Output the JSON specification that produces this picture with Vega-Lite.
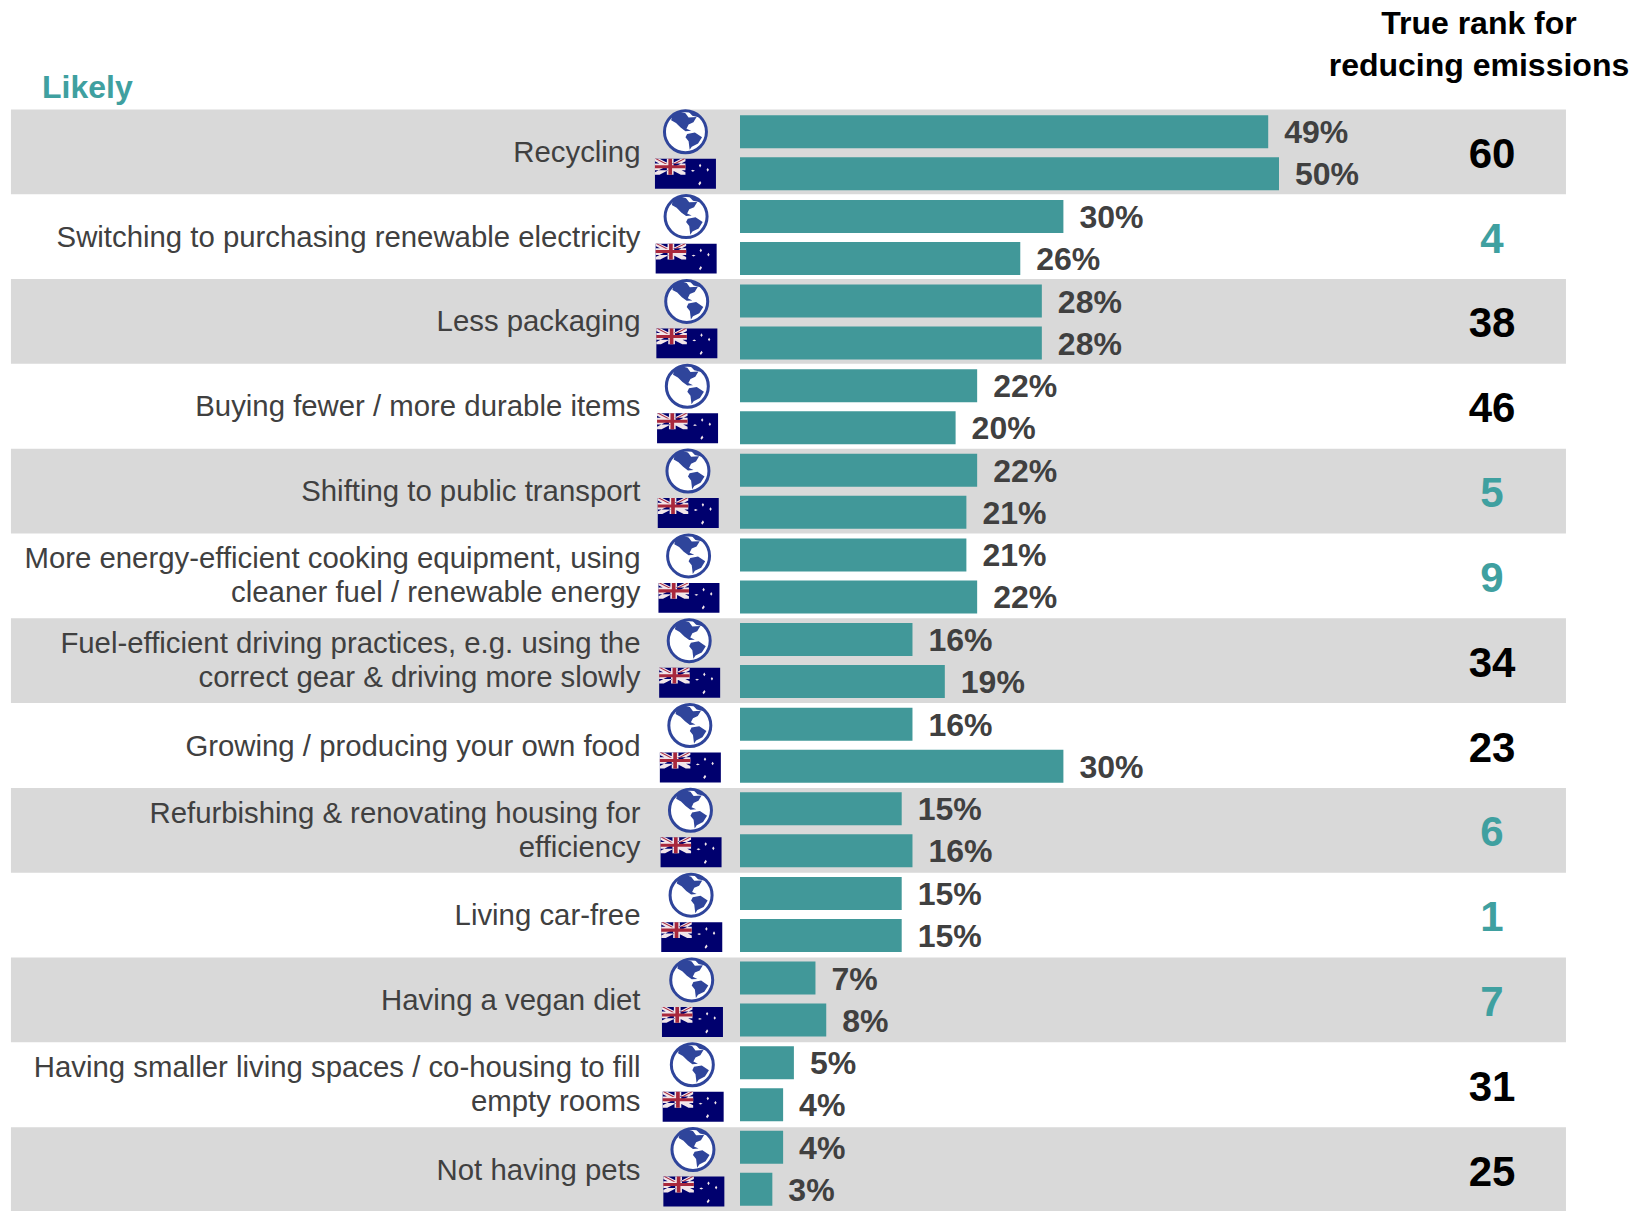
{
"$schema":"https://vega.github.io/schema/vega-lite/v6.json",
"width":1641,"height":1211,"padding":0,
"autosize":{"type":"fit","contains":"padding"},
"background":"white",
"view":{"stroke":null},
"datasets":{
"rows":[
{"category":"Recycling","series":"Global","value":0.49,"order":0},
{"category":"Recycling","series":"Australia","value":0.50,"order":0},
{"category":"Switching to purchasing renewable electricity","series":"Global","value":0.30,"order":1},
{"category":"Switching to purchasing renewable electricity","series":"Australia","value":0.26,"order":1},
{"category":"Less packaging","series":"Global","value":0.28,"order":2},
{"category":"Less packaging","series":"Australia","value":0.28,"order":2},
{"category":"Buying fewer / more durable items","series":"Global","value":0.22,"order":3},
{"category":"Buying fewer / more durable items","series":"Australia","value":0.20,"order":3},
{"category":"Shifting to public transport","series":"Global","value":0.22,"order":4},
{"category":"Shifting to public transport","series":"Australia","value":0.21,"order":4},
{"category":"More energy-efficient cooking equipment, using cleaner fuel / renewable energy","series":"Global","value":0.21,"order":5},
{"category":"More energy-efficient cooking equipment, using cleaner fuel / renewable energy","series":"Australia","value":0.22,"order":5},
{"category":"Fuel-efficient driving practices, e.g. using the correct gear & driving more slowly","series":"Global","value":0.16,"order":6},
{"category":"Fuel-efficient driving practices, e.g. using the correct gear & driving more slowly","series":"Australia","value":0.19,"order":6},
{"category":"Growing / producing your own food","series":"Global","value":0.16,"order":7},
{"category":"Growing / producing your own food","series":"Australia","value":0.30,"order":7},
{"category":"Refurbishing & renovating housing for efficiency","series":"Global","value":0.15,"order":8},
{"category":"Refurbishing & renovating housing for efficiency","series":"Australia","value":0.16,"order":8},
{"category":"Living car-free","series":"Global","value":0.15,"order":9},
{"category":"Living car-free","series":"Australia","value":0.15,"order":9},
{"category":"Having a vegan diet","series":"Global","value":0.07,"order":10},
{"category":"Having a vegan diet","series":"Australia","value":0.08,"order":10},
{"category":"Having smaller living spaces / co-housing to fill empty rooms","series":"Global","value":0.05,"order":11},
{"category":"Having smaller living spaces / co-housing to fill empty rooms","series":"Australia","value":0.04,"order":11},
{"category":"Not having pets","series":"Global","value":0.04,"order":12},
{"category":"Not having pets","series":"Australia","value":0.03,"order":12}
],
"ranks":[
{"category":"Recycling","label":"Recycling","rank":60,"order":0},
{"category":"Switching to purchasing renewable electricity","label":"Switching to purchasing renewable electricity","rank":4,"order":1},
{"category":"Less packaging","label":"Less packaging","rank":38,"order":2},
{"category":"Buying fewer / more durable items","label":"Buying fewer / more durable items","rank":46,"order":3},
{"category":"Shifting to public transport","label":"Shifting to public transport","rank":5,"order":4},
{"category":"More energy-efficient cooking equipment, using cleaner fuel / renewable energy","label":"More energy-efficient cooking equipment, using\ncleaner fuel / renewable energy","rank":9,"order":5},
{"category":"Fuel-efficient driving practices, e.g. using the correct gear & driving more slowly","label":"Fuel-efficient driving practices, e.g. using the\ncorrect gear & driving more slowly","rank":34,"order":6},
{"category":"Growing / producing your own food","label":"Growing / producing your own food","rank":23,"order":7},
{"category":"Refurbishing & renovating housing for efficiency","label":"Refurbishing & renovating housing for\nefficiency","rank":6,"order":8},
{"category":"Living car-free","label":"Living car-free","rank":1,"order":9},
{"category":"Having a vegan diet","label":"Having a vegan diet","rank":7,"order":10},
{"category":"Having smaller living spaces / co-housing to fill empty rooms","label":"Having smaller living spaces / co-housing to fill\nempty rooms","rank":31,"order":11},
{"category":"Not having pets","label":"Not having pets","rank":25,"order":12}
],
"headers":[{"category":"Header"}]
},
"resolve":{"scale":{"y":"independent"}},
"layer":[
{
"encoding":{
"y":{"field":"category","type":"nominal","axis":null,
"scale":{"type":"band","range":[24.6,1212],"paddingInner":0,"paddingOuter":0,
"domain":["Header","Recycling","Switching to purchasing renewable electricity","Less packaging","Buying fewer / more durable items","Shifting to public transport","More energy-efficient cooking equipment, using cleaner fuel / renewable energy","Fuel-efficient driving practices, e.g. using the correct gear & driving more slowly","Growing / producing your own food","Refurbishing & renovating housing for efficiency","Living car-free","Having a vegan diet","Having smaller living spaces / co-housing to fill empty rooms","Not having pets"]}}
},
"layer":[
{"data":{"name":"ranks"},"transform":[{"filter":"datum.order % 2 == 0"},{"calculate":"-0.6763","as":"bandStart"},{"calculate":"0.7662","as":"bandEnd"}],
 "mark":{"type":"rect","color":"#D9D9D9"},
 "encoding":{
  "x":{"field":"bandStart","type":"quantitative","axis":null,"scale":{"domain":[-0.68646,0.83581],"range":[0,1641],"nice":false,"zero":false}},
  "x2":{"field":"bandEnd"}}},
{"data":{"name":"ranks"},"transform":[{"filter":"indexof(datum.label,'\\n') < 0"}],
 "mark":{"type":"text","align":"right","baseline":"middle","dy":1,"font":"Liberation Sans","fontSize":29.35,"color":"#404040"},
 "encoding":{"x":{"datum":-0.0923,"type":"quantitative"},"text":{"field":"label","type":"nominal"}}},
{"data":{"name":"ranks"},"transform":[{"filter":"indexof(datum.label,'\\n') >= 0"}],
 "mark":{"type":"text","align":"right","baseline":"middle","dy":-16.5,"lineBreak":"\n","lineHeight":34,"font":"Liberation Sans","fontSize":29.35,"color":"#404040"},
 "encoding":{"x":{"datum":-0.0923,"type":"quantitative"},"text":{"field":"label","type":"nominal"}}},
{"data":{"name":"ranks"},
 "mark":{"type":"text","align":"center","baseline":"middle","dy":3,"font":"Liberation Sans","fontWeight":"bold","fontSize":42},
 "encoding":{"x":{"datum":0.6976,"type":"quantitative"},"text":{"field":"rank","type":"quantitative"},
  "color":{"condition":{"test":"datum.rank <= 9","value":"#3FA0A0"},"value":"#000000"}}},
{"data":{"name":"headers"},
 "mark":{"type":"text","align":"left","baseline":"middle","dy":21,"font":"Liberation Sans","fontWeight":"bold","fontSize":32,"color":"#3FA0A0"},
 "encoding":{"x":{"datum":-0.6475,"type":"quantitative"},"text":{"value":"Likely"}}},
{"data":{"name":"headers"},
 "mark":{"type":"text","align":"center","baseline":"middle","dy":-43,"lineBreak":"\n","lineHeight":42,"font":"Liberation Sans","fontWeight":"bold","fontSize":32,"color":"#000000"},
 "encoding":{"x":{"datum":0.6855,"type":"quantitative"},"text":{"value":"True rank for\nreducing emissions"}}},
{"data":{"name":"rows"},
 "transform":[{"filter":"datum.series == 'Global'"},{"calculate":"-0.0506 + 0.00058 * datum.order","as":"iconPos"}],
 "encoding":{
  "x":{"field":"iconPos","type":"quantitative"},
  "yOffset":{"field":"series","type":"nominal","scale":{"domain":["Global","Australia"],"paddingInner":0.214,"paddingOuter":0.117,"align":0.6}}},
 "layer":[
  {"mark":{"type":"point","shape":"circle","size":1764,"filled":false,"fill":"#ffffff","fillOpacity":1,"stroke":"#2F459B","strokeWidth":3,"opacity":1}},
  {"mark":{"type":"point","filled":true,"size":1764,"opacity":1,"color":"#2F459B","strokeWidth":0,
   "shape":"M-.64 -.73 L-.3 -.97 L0 -.88 L.15 -.68 L.53 -.7 L.38 -.45 L.15 -.35 L.05 -.15 L.27 -.05 L0 -.03 L-.23 -.2 L-.45 -.42 L-.68 -.55 Z M.08 .1 L.45 .03 L.79 .26 L.6 .56 L.3 .71 L.2 .86 L.15 .45 L0 .26 Z M.15 -.95 L.53 -.88 L.68 -.68 L.33 -.76 Z"}}
 ]},
{"data":{"name":"rows"},
 "transform":[{"filter":"datum.series == 'Australia'"},{"calculate":"-0.0506 + 0.00065 * datum.order","as":"iconPos"}],
 "encoding":{
  "x":{"field":"iconPos","type":"quantitative"},
  "yOffset":{"field":"series","type":"nominal"}},
 "layer":[
  {"mark":{"type":"point","filled":true,"size":3721,"opacity":1,"color":"#00006E","strokeWidth":0,"shape":"M-1 -.49 H1 V.49 H-1 Z"}},
  {"mark":{"type":"point","filled":true,"size":3721,"opacity":1,"color":"#F2E6EA","strokeWidth":0,
   "shape":"M-1 -.49 L-.85 -.49 L0 -.05 L0 .03 L-.15 .03 L-1 -.41 Z M0 -.49 L-.15 -.49 L-1 -.05 L-1 .03 L-.85 .03 L0 -.41 Z M-1 -.34 H0 V-.12 H-1 Z M-.61 -.49 H-.39 V.03 H-.61 Z M.24 -.13 L.31 -.1 L.24 -.07 L.18 -.1 Z M.48 -.33 L.52 -.27 L.48 -.21 L.44 -.27 Z M.73 -.19 L.77 -.13 L.73 -.07 L.69 -.13 Z M.48 .24 L.52 .3 L.46 .38 L.42 .33 Z"}},
  {"mark":{"type":"point","filled":true,"size":3721,"opacity":1,"color":"#A8283C","strokeWidth":0,
   "shape":"M-1 -.28 H0 V-.18 H-1 Z M-.56 -.49 H-.44 V.03 H-.56 Z M-1 -.49 L-.93 -.49 L-.6 -.32 L-.67 -.32 Z M0 -.49 L-.07 -.49 L-.4 -.32 L-.33 -.32 Z"}}
 ]}
]},
{
"data":{"name":"rows"},
"encoding":{
"y":{"field":"category","type":"nominal","axis":null,
"scale":{"type":"band","range":[24.78,1209.5],"paddingInner":0,"paddingOuter":0,
"domain":["Header","Recycling","Switching to purchasing renewable electricity","Less packaging","Buying fewer / more durable items","Shifting to public transport","More energy-efficient cooking equipment, using cleaner fuel / renewable energy","Fuel-efficient driving practices, e.g. using the correct gear & driving more slowly","Growing / producing your own food","Refurbishing & renovating housing for efficiency","Living car-free","Having a vegan diet","Having smaller living spaces / co-housing to fill empty rooms","Not having pets"]}},
"x":{"field":"value","type":"quantitative","stack":null},
"yOffset":{"field":"series","type":"nominal"}
},
"layer":[
{"mark":{"type":"bar","color":"#419899"}},
{"mark":{"type":"text","align":"left","baseline":"middle","dx":16,"dy":1.5,"font":"Liberation Sans","fontWeight":"bold","fontSize":32,"color":"#404040"},
 "encoding":{"text":{"field":"value","type":"quantitative","format":".0%"}}}
]}
]
}
